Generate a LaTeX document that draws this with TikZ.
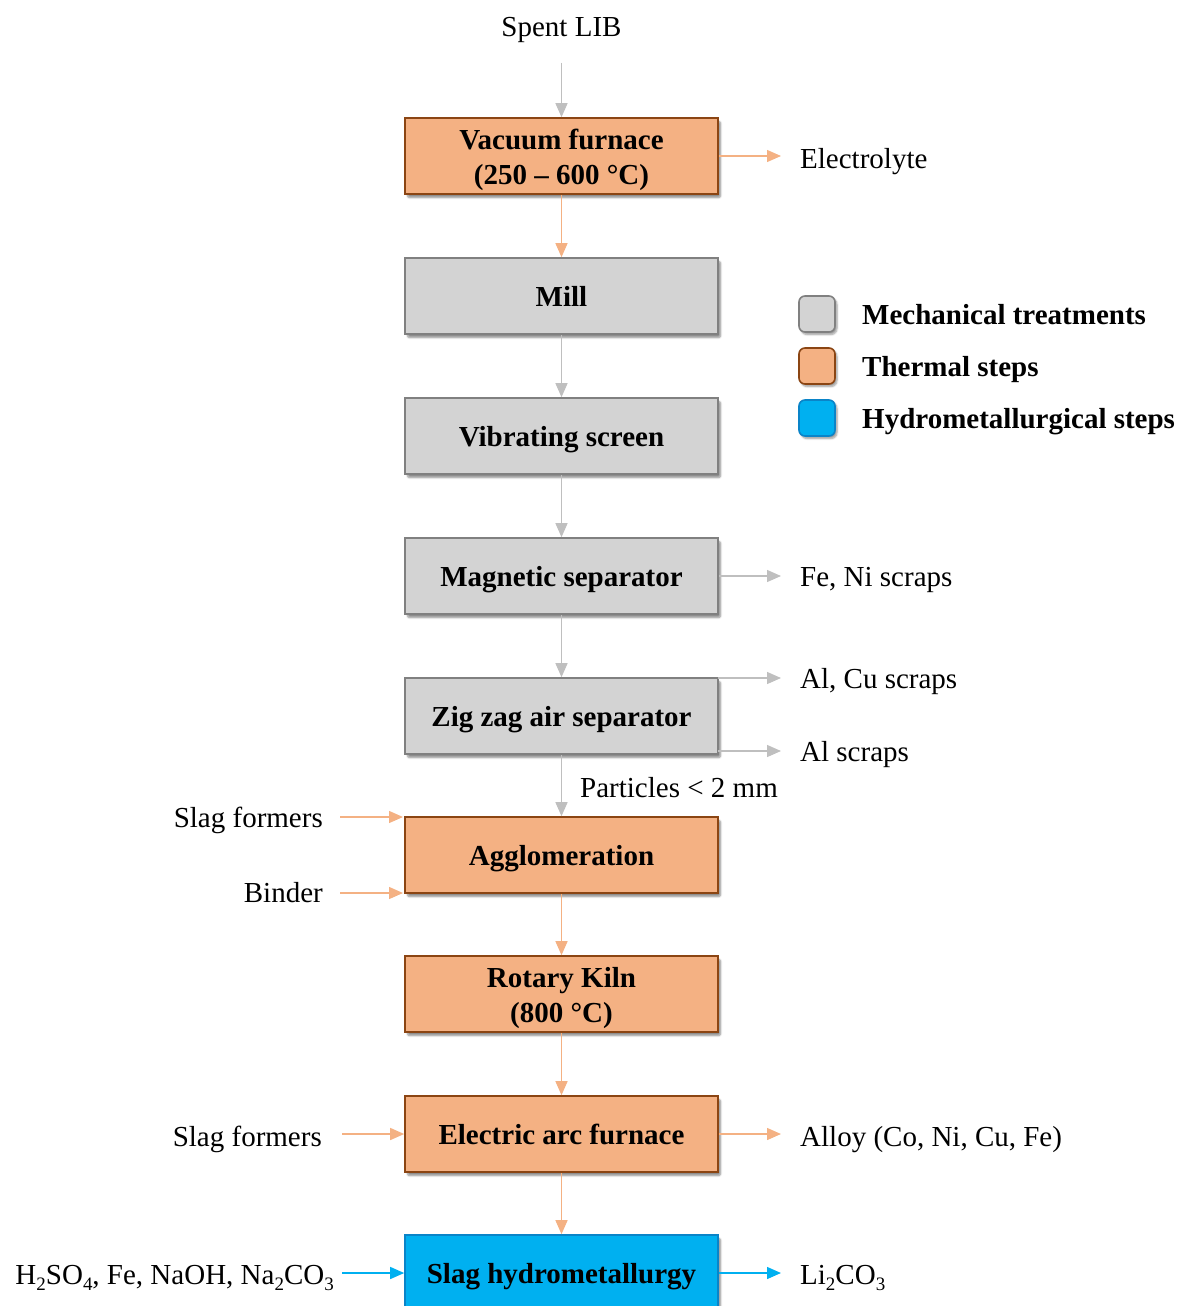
\documentclass[tikz,border=0pt]{standalone}
\usepackage{fontspec}
\setmainfont{Liberation Serif}
\usetikzlibrary{arrows.meta,shadows.blur}
\definecolor{thermfill}{HTML}{F4B183}
\definecolor{thermdraw}{HTML}{8B4513}
\definecolor{mechfill}{HTML}{D3D3D3}
\definecolor{mechdraw}{HTML}{808080}
\definecolor{hydrofill}{HTML}{00B0F0}
\definecolor{hydrodraw}{HTML}{0A84C8}
\definecolor{mecharrow}{HTML}{BFBFBF}
\definecolor{thermarrow}{HTML}{F4B183}
% chemical subscript
\newcommand\chemsub[1]{\raisebox{-0.45ex}{\fontsize{19}{19}\selectfont #1}}
\tikzset{
  every node/.style={font=\fontsize{29}{33}\selectfont},
  stepbox/.style={rectangle, minimum width=313pt, minimum height=76pt, line width=1.6pt,
    align=center, font=\fontsize{29}{35}\selectfont\bfseries,
    text height=24pt, text depth=3pt,
    blur shadow={shadow xshift=2.5pt, shadow yshift=-3.5pt, shadow blur steps=6,
      shadow blur extra rounding=2pt, shadow opacity=45}},
  twoline/.style={text height=60pt},
  mech/.style={stepbox, fill=mechfill, draw=mechdraw},
  therm/.style={stepbox, fill=thermfill, draw=thermdraw},
  hydro/.style={stepbox, fill=hydrofill, draw=hydrodraw},
  flow/.style={line width=1.3pt, -{Triangle[length=14pt,width=12pt]}},
  ga/.style={flow, draw=mecharrow, fill=mecharrow},
  oa/.style={flow, draw=thermarrow, fill=thermarrow},
  ba/.style={flow, draw=hydrofill, fill=hydrofill},
  lab/.style={inner sep=0pt},
  key/.style={rectangle, rounded corners=6pt, minimum size=36pt, line width=1.6pt,
    blur shadow={shadow xshift=2pt, shadow yshift=-2.5pt, shadow blur steps=5,
      shadow opacity=40}},
  keytext/.style={anchor=west, inner sep=0pt, font=\fontsize{29}{33}\selectfont\bfseries,
    execute at begin node=\strut}
}
\begin{document}
\begin{tikzpicture}[x=1pt,y=-1pt]
\useasboundingbox (0,0) rectangle (1182,1306);

% process chain
\node[lab] (lib) at (561.5,30) {Spent LIB};
\coordinate (libend) at (561.5,63);
\node[therm, twoline] (vac) at (561.5,156) {Vacuum furnace\\(250 – 600 °C)};
\node[mech] (mill) at (561.5,296) {Mill};
\node[mech] (vib) at (561.5,436) {Vibrating screen};
\node[mech] (mag) at (561.5,576) {Magnetic separator};
\node[mech] (zig) at (561.5,716) {Zig zag air separator};
\node[therm] (agg) at (561.5,855) {Agglomeration};
\node[therm, twoline] (kiln) at (561.5,994) {Rotary Kiln\\(800 °C)};
\node[therm] (eaf) at (561.5,1134) {Electric arc furnace};
\node[hydro] (hyd) at (561.5,1273) {Slag hydrometallurgy};

\draw[ga] (libend) -- (vac.north);
\draw[oa] (vac) -- (mill);
\draw[ga] (mill) -- (vib);
\draw[ga] (vib) -- (mag);
\draw[ga] (mag) -- (zig);
\draw[ga] (zig) -- (agg);
\draw[oa] (agg) -- (kiln);
\draw[oa] (kiln) -- (eaf);
\draw[oa] (eaf) -- (hyd);

% outputs on the right
\node[lab, anchor=west] (elec) at (800,162) {Electrolyte};
\draw[oa] (vac.east) -- (781,156);
\node[lab, anchor=west] (feni) at (800,580) {Fe, Ni scraps};
\draw[ga] (mag.east) -- (781,576);
\node[lab, anchor=west] (alcu) at (800,682) {Al, Cu scraps};
\coordinate (zigtop) at (718,678);
\draw[ga] (zigtop) -- (781,678);
\node[lab, anchor=west] (al) at (800,755) {Al scraps};
\coordinate (zigbot) at (718,751);
\draw[ga] (zigbot) -- (781,751);
\node[lab, anchor=west] (part) at (580,788) {Particles < 2 mm};
\node[lab, anchor=west] (alloy) at (800,1140) {Alloy (Co, Ni, Cu, Fe)};
\draw[oa] (eaf.east) -- (781,1134);
\node[lab, anchor=west] (li) at (800,1278) {Li\chemsub{2}CO\chemsub{3}};
\draw[ba] (hyd.east) -- (781,1273);

% inputs on the left
\node[lab, anchor=east] (slag1) at (323,820) {Slag formers};
\coordinate (agin1) at (340,817);
\draw[oa] (agin1) -- (403,817);
\node[lab, anchor=east] (bind) at (323,893) {Binder};
\coordinate (agin2) at (340,893);
\draw[oa] (agin2) -- (403,893);
\node[lab, anchor=east] (slag2) at (322,1139) {Slag formers};
\coordinate (eafin) at (342,1134);
\draw[oa] (eafin) -- (eaf.west);
\node[lab, anchor=east] (reag) at (334,1278) {H\chemsub{2}SO\chemsub{4}, Fe, NaOH, Na\chemsub{2}CO\chemsub{3}};
\coordinate (hydin) at (342,1273);
\draw[ba] (hydin) -- (hyd.west);

% legend
\node[key, fill=mechfill, draw=mechdraw] (k1) at (817,314) {};
\node[keytext] (t1) at (862,318) {Mechanical treatments};
\node[key, fill=thermfill, draw=thermdraw] (k2) at (817,366) {};
\node[keytext] (t2) at (862,370) {Thermal steps};
\node[key, fill=hydrofill, draw=hydrodraw] (k3) at (817,418) {};
\node[keytext] (t3) at (862,422) {Hydrometallurgical steps};
\end{tikzpicture}
\end{document}
